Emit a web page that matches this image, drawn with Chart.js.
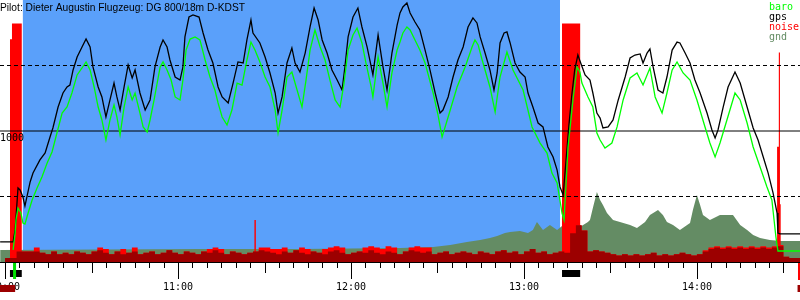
<!DOCTYPE html>
<html>
<head>
<meta charset="utf-8">
<script src="https://cdn.jsdelivr.net/npm/chart.js@4/dist/chart.umd.min.js"></script>
<style>
  body { margin: 0; background: #fff; }
  canvas { display: block; }
</style>
</head>
<body>
<canvas id="flight" width="800" height="300"></canvas>
<script>
// all times are minutes after 10:00
const title = 'Pilot: Dieter Augustin Flugzeug: DG 800/18m D-KDST';
const legendNames = ['baro', 'gps', 'noise', 'gnd'];
const legendColors = ['#00ff00', '#000000', '#ff0000', '#648c64'];
const hourLabels = ['10:00', '11:00', '12:00', '13:00', '14:00'];
const hourTimes = [0, 60, 120, 180, 240];
const levelLines = [500, 1000, 1500];
const levelLabels = ['', '1000', ''];

// time window shown and the gliding phase (blue)
const timeMin = -1.75;
const timeMax = 275.75;
const glideStart = 6.1;
const glideEnd = 192.5;

// engine runs, takeoff, end of log
const engineOn = [1.7, 193.2];
const engineOff = [5.8, 199.5];
const takeoffTime = 3.3;
const logEnd = 275.4;
const darkMarks = [[-1.75, 3.5], [274.9, 275.75]];

// gps altitude (m)
const gpsTimes = [
  -1.7, 2.8, 3.5, 4.5, 5.2, 6.2, 6.9, 8.7, 9.7, 12.1,
  13.9, 15.6, 16.6, 18.4, 20.1, 21.5, 22.5, 23.6, 25.0, 26.7,
  28.1, 29.5, 30.5, 32.3, 33.6, 35.0, 36.4, 37.8, 38.8, 39.9,
  41.3, 42.7, 44.1, 45.1, 46.8, 48.6, 50.3, 52.0, 53.8, 54.8,
  56.2, 57.2, 59.0, 60.7, 61.7, 62.4, 63.8, 65.2, 67.3, 68.7,
  70.4, 72.1, 73.9, 75.3, 77.4, 79.1, 80.8, 82.6, 83.9, 85.3,
  86.0, 88.4, 90.2, 91.9, 93.7, 94.7, 96.1, 97.8, 99.5, 100.6,
  102.3, 104.1, 105.8, 107.2, 108.6, 110.0, 111.7, 113.4, 115.2, 116.9,
  117.9, 119.0, 120.7, 122.4, 123.8, 125.6, 127.6, 129.4, 131.1, 132.5,
  134.2, 136.0, 137.0, 138.0, 139.4, 140.5, 142.2, 143.9, 145.7, 147.4,
  149.2, 150.9, 151.9, 153.7, 155.4, 157.1, 158.9, 160.6, 162.3, 163.7,
  164.8, 166.5, 168.2, 169.6, 170.7, 171.7, 173.1, 174.1, 175.2, 176.9,
  178.6, 180.4, 181.4, 183.1, 184.9, 186.6, 188.3, 190.1, 191.5, 192.5,
  193.6, 194.6, 195.6, 196.6, 197.6, 198.7, 199.3, 201.2, 202.9, 203.9,
  205.3, 206.4, 207.4, 209.2, 210.9, 212.7, 215.1, 216.8, 218.5, 220.3,
  221.3, 222.7, 223.7, 224.8, 226.5, 228.2, 229.6, 231.4, 233.1, 234.1,
  235.9, 237.6, 239.3, 241.1, 243.5, 245.2, 246.3, 247.3, 249.1, 250.8,
  253.2, 255.0, 257.4, 259.5, 261.2, 263.0, 264.7, 266.4, 267.8, 268.1,
  268.8, 275.8
];
const gpsAlt = [
  153, 153, 245, 565, 550, 496, 427, 611, 679, 779,
  832, 954, 1023, 1183, 1290, 1336, 1351, 1466, 1565, 1641,
  1702, 1641, 1489, 1336, 1260, 1107, 1237, 1366, 1260, 1160,
  1336, 1504, 1405, 1466, 1290, 1160, 1237, 1489, 1641, 1695,
  1641, 1542, 1412, 1389, 1489, 1718, 1870, 1886, 1870, 1748,
  1618, 1519, 1336, 1260, 1214, 1366, 1527, 1519, 1695, 1847,
  1748, 1672, 1565, 1443, 1290, 1137, 1260, 1519, 1634, 1519,
  1450, 1595, 1794, 1939, 1847, 1695, 1595, 1466, 1389, 1313,
  1489, 1718, 1870, 1939, 1794, 1641, 1428, 1733, 1489, 1313,
  1595, 1809, 1901, 1947, 1977, 1901, 1832, 1771, 1618, 1466,
  1290, 1137, 1160, 1260, 1412, 1542, 1641, 1794, 1863, 1825,
  1718, 1595, 1466, 1313, 1443, 1672, 1748, 1756, 1672, 1519,
  1450, 1412, 1290, 1183, 1061, 1031, 878, 802, 702, 573,
  511, 779, 1046, 1275, 1466, 1580, 1542, 1428, 1389, 1290,
  1137, 1099, 1023, 1031, 1084, 1237, 1412, 1557, 1580, 1588,
  1519, 1595, 1626, 1489, 1313, 1290, 1412, 1618, 1679, 1672,
  1595, 1519, 1389, 1290, 1137, 1008, 947, 1008, 1183, 1336,
  1450, 1366, 1183, 1023, 931, 802, 679, 527, 374, 221,
  214, 214
];

// baro altitude (m)
const baroTimes = [
  2.8, 3.5, 3.8, 4.5, 5.5, 6.2, 6.9, 8.0, 9.4, 11.1,
  12.8, 14.6, 16.3, 18.0, 19.8, 21.5, 23.2, 25.0, 26.7, 28.1,
  29.5, 30.9, 32.3, 33.6, 35.0, 36.4, 37.8, 38.8, 39.9, 41.3,
  42.7, 44.1, 45.1, 46.8, 47.9, 49.3, 50.3, 51.7, 53.8, 54.8,
  56.2, 57.6, 59.0, 60.7, 61.7, 62.8, 64.2, 65.9, 67.6, 69.4,
  71.1, 72.8, 73.9, 75.3, 77.0, 78.7, 80.5, 82.2, 83.9, 85.3,
  86.7, 88.4, 90.2, 91.9, 93.7, 94.7, 96.1, 97.8, 99.5, 101.3,
  103.0, 104.4, 105.8, 107.5, 109.3, 111.0, 112.7, 114.5, 116.2, 117.6,
  119.0, 120.7, 122.1, 123.8, 125.2, 127.0, 127.6, 129.4, 131.1, 132.5,
  134.2, 136.0, 137.0, 138.0, 139.4, 140.5, 142.2, 143.9, 145.7, 148.5,
  150.2, 151.6, 153.7, 156.8, 159.6, 162.0, 163.0, 164.1, 165.5, 168.2,
  170.0, 171.7, 174.1, 176.2, 179.7, 182.8, 185.6, 188.0, 189.7, 191.5,
  193.2, 193.9, 195.3, 197.0, 198.4, 199.4, 200.1, 202.2, 203.9, 205.3,
  206.4, 208.1, 210.5, 212.3, 214.4, 216.8, 219.2, 221.3, 223.7, 225.5,
  227.9, 229.6, 231.4, 233.1, 235.2, 237.6, 240.0, 242.8, 244.5, 246.3,
  248.0, 250.4, 253.2, 255.0, 257.4, 259.5, 261.9, 264.3, 266.0, 267.4,
  268.1, 275.8
];
const baroAlt = [
  92, 221, 321, 412, 374, 298, 290, 374, 473, 565,
  649, 756, 840, 985, 1137, 1183, 1290, 1428, 1481, 1527,
  1466, 1336, 1183, 1084, 931, 1084, 1199, 1107, 970, 1183,
  1336, 1237, 1290, 1137, 1031, 992, 1084, 1237, 1489, 1527,
  1466, 1389, 1260, 1237, 1389, 1618, 1702, 1718, 1695, 1542,
  1412, 1313, 1214, 1107, 1046, 1160, 1366, 1351, 1542, 1679,
  1618, 1527, 1412, 1336, 1160, 985, 1160, 1412, 1450, 1313,
  1183, 1389, 1618, 1771, 1641, 1542, 1389, 1237, 1183, 1366,
  1618, 1733, 1786, 1672, 1519, 1336, 1260, 1565, 1366, 1183,
  1443, 1618, 1679, 1748, 1794, 1771, 1695, 1618, 1519, 1290,
  1122, 954, 1107, 1336, 1489, 1641, 1695, 1657, 1542, 1336,
  1145, 1412, 1603, 1466, 1313, 1031, 908, 832, 679, 603,
  374, 321, 878, 1237, 1489, 1450, 1366, 1260, 1183, 985,
  931, 870, 908, 1031, 1237, 1405, 1443, 1351, 1481, 1260,
  1137, 1290, 1466, 1527, 1443, 1389, 1237, 1031, 908, 802,
  908, 1084, 1290, 1237, 1061, 878, 725, 573, 473, 191,
  84, 84
];

// ground elevation below the glider (m)
const gndTimes = [
  -1.7, 67.6, 102.3, 137.0, 148.5, 154.4, 160.2, 164.8, 168.2, 170.7,
  173.4, 175.2, 178.6, 181.4, 183.1, 184.5, 186.6, 189.0, 191.5, 193.2,
  199.4, 202.2, 202.9, 203.9, 205.3, 206.4, 207.4, 208.8, 210.9, 213.3,
  216.8, 219.2, 222.0, 223.7, 226.5, 228.2, 229.6, 231.7, 234.1, 236.6,
  237.6, 238.6, 240.0, 241.1, 242.1, 244.5, 248.0, 252.5, 255.0, 257.4,
  259.5, 261.9, 265.3, 269.1, 275.8
];
const gndAlt = [
  92, 99, 99, 107, 115, 130, 153, 168, 183, 198,
  221, 229, 237, 221, 244, 305, 244, 282, 244, 275,
  267, 305, 321, 412, 534, 473, 435, 374, 321, 305,
  282, 260, 305, 359, 397, 359, 305, 282, 244, 282,
  298, 397, 511, 435, 359, 321, 359, 359, 282, 244,
  206, 183, 168, 160, 160
];

// noise level (0-100), 2 minute blocks, each value ends at its time
const noiseTimes = [
  0, 2, 4, 6, 8, 10, 12, 14, 16, 18, 20, 22, 24, 26, 28, 30, 32, 34, 36, 38,
  40, 42, 44, 46, 48, 50, 52, 54, 56, 58, 60, 62, 64, 66, 68, 70, 72, 74, 76, 78,
  80, 82, 84, 86, 88, 90, 92, 94, 96, 98, 100, 102, 104, 106, 108, 110, 112, 114, 116, 118,
  120, 122, 124, 126, 128, 130, 132, 134, 136, 138, 140, 142, 144, 146, 148, 150, 152, 154, 156, 158,
  160, 162, 164, 166, 168, 170, 172, 174, 176, 178, 180, 182, 184, 186, 188, 190, 192, 194, 196, 198,
  200, 202, 204, 206, 208, 210, 212, 214, 216, 218, 220, 222, 224, 226, 228, 230, 232, 234, 236, 238,
  240, 242, 244, 246, 248, 250, 252, 254, 256, 258, 260, 262, 264, 266, 268, 270, 272, 274, 276, 278
];
const noiseMax = [
  1.5, 1.5, 4, 4, 4, 5.5, 3.5, 3, 4, 3, 3.5, 3, 4, 3.5, 3, 4, 5.5, 5, 3, 4,
  5, 3.5, 5.5, 3, 3.5, 4, 3, 3.5, 4.5, 3.5, 3, 4, 3.5, 3, 4, 5, 5.5, 5, 3, 4,
  3.5, 3, 3.5, 4, 5.5, 5.5, 5, 5, 5.5, 3.5, 4.5, 5.5, 5, 4, 3.5, 5, 5.5, 6, 5.5, 3,
  3.5, 4, 5.5, 6, 5.5, 5, 6, 5.5, 3, 4, 5.5, 6, 5.5, 5.5, 3, 3.5, 4, 3, 3.5, 4,
  3.5, 3, 4, 3.5, 3, 4, 4.5, 3.5, 4, 3, 4, 5, 3.5, 4, 3, 3.5, 4, 3.5, 11, 14,
  12, 4, 4.5, 4, 3.5, 3, 2.5, 3, 2.5, 3, 2.5, 3, 3.5, 2.5, 3, 2.5, 3, 3.5, 3, 2.5,
  3, 4.5, 5.5, 6, 5.5, 6, 5.5, 6, 5.5, 6, 5.5, 6, 5.5, 6, 6.5, 2, 1.5, 1.5, 1.5, 1.5
];
const noiseAvg = [
  1.5, 1.5, 4, 4, 4, 4, 3.5, 3, 4, 3, 3.5, 3, 4, 3.5, 3, 4, 4.5, 3.5, 3, 4,
  3, 3.5, 4, 3, 3.5, 4, 3, 3.5, 4.5, 3.5, 3, 4, 3.5, 3, 4, 3.5, 4.5, 3.5, 3, 4,
  3.5, 3, 3.5, 4, 4.5, 4, 3.5, 3, 4, 3.5, 4.5, 3.5, 3, 4, 3.5, 3, 4, 4.5, 3.5, 3,
  3.5, 4, 3.5, 4.5, 3.5, 3, 4, 3.5, 3, 4, 4.5, 4, 3.5, 4, 3, 3.5, 4, 3, 3.5, 4,
  3.5, 3, 4, 3.5, 3, 4, 4.5, 3.5, 4, 3, 4, 5, 3.5, 4, 3, 3.5, 4, 3.5, 11, 14,
  12, 4, 4.5, 4, 3.5, 3, 2.5, 3, 2.5, 3, 2.5, 3, 3.5, 2.5, 3, 2.5, 3, 3.5, 3, 2.5,
  3, 4, 5, 5.5, 5, 5.5, 5, 5.5, 5, 5.5, 5, 5.5, 5, 5.5, 6, 2, 1.5, 1.5, 1.5, 1.5
];

// short noise peaks: engine runs and single spikes
const peakStart = [1.7, 2.4, 86.5, 193.2, 267.8, 268.4, 268.8];
const peakEnd = [2.4, 5.8, 87.0, 199.5, 268.4, 268.8, 269.1];
const peakLevels = [85, 91, 16, 91, 44, 80, 22];

const colors = {
  glide: 'rgb(90,160,250)',
  baro: '#00ff00',
  gps: '#000000',
  noise: '#ff0000',
  noiseAvg: '#9c0000',
  gnd: '#648c64'
};

function pairs(times, values) {
  const n = Math.min(times.length, values.length);
  let out = [];
  for (let i = 0; i < n; i++) {
    out.push({ x: times[i], y: values[i] });
  }
  return out;
}

// outline of the peak blocks, touching blocks share their edge
function peakOutline() {
  let out = [];
  peakStart.forEach((s, i) => {
    const e = peakEnd[i];
    if (i === 0 || peakEnd[i - 1] !== s) {
      out.push({ x: s, y: 0 });
    }
    out.push({ x: s, y: peakLevels[i] });
    out.push({ x: e, y: peakLevels[i] });
    if (i === peakStart.length - 1 || peakStart[i + 1] !== e) {
      out.push({ x: e, y: 0 });
    }
  });
  return out;
}

function levelDataset(level) {
  return {
    label: 'level ' + level,
    data: [{ x: timeMin, y: level }, { x: timeMax, y: level }],
    borderColor: '#000',
    borderWidth: 1,
    borderDash: level === 1000 ? [] : [4, 3],
    fill: false,
    order: 2
  };
}

// ticks, time labels, title, legend and the small markers under the axis
const decorPlugin = {
  id: 'decor',
  afterDraw(chart) {
    const ctx = chart.ctx;
    const xs = chart.scales.x;
    const ys = chart.scales.y;
    const area = chart.chartArea;
    const px = (t) => xs.getPixelForValue(t);
    ctx.save();

    ctx.strokeStyle = '#000';
    ctx.lineWidth = 1;
    ctx.beginPath();
    ctx.moveTo(area.left, area.bottom + 0.5);
    ctx.lineTo(area.right, area.bottom + 0.5);
    for (let m = 0; m <= timeMax; m += 5) {
      const x = Math.round(px(m)) + 0.5;
      const len = m % 60 === 0 ? 17 : (m % 30 === 0 ? 11 : 6);
      ctx.moveTo(x, area.bottom);
      ctx.lineTo(x, area.bottom + len);
    }
    ctx.stroke();

    // engine runs
    ctx.fillStyle = '#000';
    engineOn.forEach((t, i) => {
      const x1 = px(t);
      const x2 = px(engineOff[i]);
      ctx.fillRect(x1, area.bottom + 8, x2 - x1, 7);
    });
    ctx.fillStyle = '#00e000';
    ctx.fillRect(px(takeoffTime) - 1.5, area.bottom + 1, 3, 16);
    ctx.fillStyle = '#ff0000';
    ctx.fillRect(px(logEnd) - 1, area.bottom + 1, 3, 17);

    ctx.font = '10px "DejaVu Sans Mono"';
    ctx.textAlign = 'center';
    ctx.textBaseline = 'alphabetic';
    ctx.fillStyle = '#000';
    hourTimes.forEach((t, i) => {
      ctx.fillText(hourLabels[i], px(t), area.bottom + 28);
    });

    ctx.fillStyle = colors.noiseAvg;
    darkMarks.forEach((d) => {
      ctx.fillRect(px(d[0]), area.bottom + 23, px(d[1]) - px(d[0]), 7);
    });

    // level labels
    ctx.textAlign = 'left';
    ctx.fillStyle = '#000';
    levelLines.forEach((lv, i) => {
      if (levelLabels[i]) {
        ctx.fillText(levelLabels[i], area.left, ys.getPixelForValue(lv) + 10);
      }
    });

    // legend
    legendNames.forEach((name, i) => {
      ctx.fillStyle = legendColors[i];
      ctx.fillText(name, 769, 10 + i * 10);
    });

    // title, squeezed a little to the width of the original
    ctx.font = '11px "Liberation Sans"';
    ctx.fillStyle = '#000';
    const w = ctx.measureText(title).width;
    ctx.scale(Math.min(1, 245 / w), 1);
    ctx.fillText(title, 0, 11);

    ctx.restore();
  }
};

const ctx = document.getElementById('flight').getContext('2d');

new Chart(ctx, {
  type: 'line',
  data: {
    datasets: [
      {
        label: 'baro',
        data: pairs(baroTimes, baroAlt),
        borderColor: colors.baro,
        borderWidth: 1.3,
        fill: false,
        order: 0
      },
      {
        label: 'gps',
        data: pairs(gpsTimes, gpsAlt),
        borderColor: colors.gps,
        borderWidth: 1.3,
        fill: false,
        order: 1
      },
      ...levelLines.map(levelDataset),
      {
        label: 'noise avg',
        data: pairs(noiseTimes, noiseAvg),
        yAxisID: 'yNoise',
        stepped: 'before',
        borderWidth: 0,
        backgroundColor: colors.noiseAvg,
        fill: 'origin',
        order: 3
      },
      {
        label: 'noise',
        data: pairs(noiseTimes, noiseMax),
        yAxisID: 'yNoise',
        stepped: 'before',
        borderWidth: 0,
        backgroundColor: colors.noise,
        fill: 'origin',
        order: 4
      },
      {
        label: 'noise peaks',
        data: peakOutline(),
        yAxisID: 'yNoise',
        borderWidth: 0,
        backgroundColor: colors.noise,
        fill: 'origin',
        order: 5
      },
      {
        label: 'gnd',
        data: pairs(gndTimes, gndAlt),
        borderWidth: 0,
        backgroundColor: colors.gnd,
        fill: 'origin',
        order: 6
      },
      {
        label: 'glide',
        data: [{ x: glideStart, y: 2000 }, { x: glideEnd, y: 2000 }],
        borderWidth: 0,
        backgroundColor: colors.glide,
        fill: 'origin',
        order: 7
      }
    ]
  },
  options: {
    responsive: false,
    animation: false,
    layout: { padding: { left: 0, right: 0, top: 0, bottom: 38 } },
    elements: {
      point: { radius: 0 },
      line: { tension: 0 }
    },
    plugins: {
      legend: { display: false },
      tooltip: { enabled: false }
    },
    scales: {
      x: { type: 'linear', min: timeMin, max: timeMax, display: false },
      y: { min: 0, max: 2000, display: false },
      yNoise: { min: 0, max: 100, display: false }
    }
  },
  plugins: [decorPlugin]
});
</script>
</body>
</html>
